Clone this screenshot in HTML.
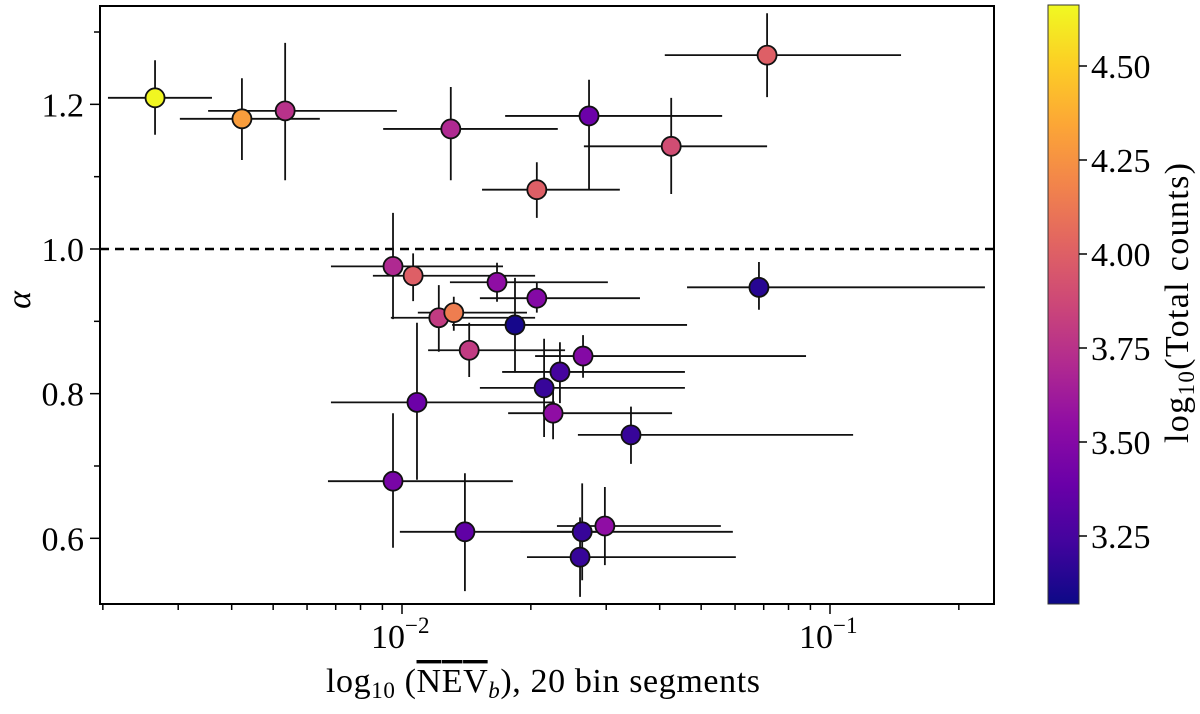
<!DOCTYPE html>
<html><head><meta charset="utf-8"><style>
body{margin:0;background:#fff;width:1200px;height:709px;overflow:hidden}
svg{font-family:"Liberation Serif","DejaVu Serif",serif}
</style></head><body>
<svg id="chart" width="1200" height="709" viewBox="0 0 1200 709">
<defs>
<linearGradient id="plasma" x1="0" y1="1" x2="0" y2="0">
<stop offset="0" stop-color="#0d0887"/><stop offset="0.1" stop-color="#41049d"/><stop offset="0.2" stop-color="#6a00a8"/><stop offset="0.3" stop-color="#8f0da4"/><stop offset="0.4" stop-color="#b12a90"/><stop offset="0.5" stop-color="#cc4778"/><stop offset="0.6" stop-color="#e16462"/><stop offset="0.7" stop-color="#f2844b"/><stop offset="0.8" stop-color="#fca636"/><stop offset="0.9" stop-color="#fcce25"/><stop offset="1" stop-color="#f0f921"/>
</linearGradient>
</defs>
<g id="plot"></g>
<g id="axes"></g>
<rect x="1048" y="5" width="31" height="599" fill="url(#plasma)" stroke="#333" stroke-width="1"/>
<g id="cbar"></g>
<text x="326" y="692" font-size="34" textLength="434" lengthAdjust="spacing">log<tspan font-size="23" dy="6">10</tspan><tspan dy="-6"> (</tspan><tspan text-decoration="overline">NEV</tspan><tspan font-style="italic" font-size="23" dy="6">b</tspan><tspan dy="-6">), 20 bin segments</tspan></text>
<text x="0" y="0" font-size="34" font-style="italic" text-anchor="middle" transform="translate(30,300) rotate(-90)">α</text>
<text x="163" y="0" font-size="34" textLength="280" lengthAdjust="spacing" transform="translate(1188,606) rotate(-90)">log<tspan font-size="23" dy="6">10</tspan><tspan dy="-6">(Total counts)</tspan></text>
</svg>
<script>
const logNEV   =[-2.577,-2.374,-2.273,-1.886,-1.563,-1.147,-1.371,-1.685,-2.021,-1.974,-1.778,-1.685,-1.166,-1.914,-1.879,-1.736,-1.843,-1.577,-1.631,-1.668,-1.965,-1.647,-1.465,-2.021,-1.853,-1.579,-1.526,-1.584];
const logNEVLo =[-2.687,-2.519,-2.453,-2.044,-1.759,-1.386,-1.575,-1.813,-2.166,-2.068,-1.888,-1.818,-1.334,-2.026,-1.963,-1.883,-1.939,-1.689,-1.766,-1.818,-2.166,-1.752,-1.589,-2.173,-2.005,-1.724,-1.638,-1.708];
const logNEVHi =[-2.444,-2.192,-2.012,-1.636,-1.252,-0.834,-1.147,-1.491,-1.764,-1.689,-1.519,-1.444,-0.638,-1.689,-1.708,-1.334,-1.619,-1.056,-1.339,-1.339,-1.643,-1.369,-0.946,-1.741,-1.530,-1.227,-1.255,-1.220];
const alpha    =[1.209,1.180,1.191,1.166,1.184,1.268,1.142,1.082,0.976,0.963,0.954,0.932,0.947,0.905,0.912,0.895,0.860,0.852,0.830,0.808,0.788,0.773,0.743,0.679,0.609,0.609,0.617,0.574];
const alphaHi  =[1.261,1.236,1.285,1.224,1.234,1.326,1.209,1.120,1.050,0.994,0.981,0.953,0.982,0.950,0.934,0.960,0.898,0.881,0.871,0.876,0.898,0.805,0.782,0.773,0.690,0.676,0.671,0.629];
const alphaLo  =[1.158,1.123,1.095,1.095,1.082,1.210,1.076,1.043,0.903,0.928,0.927,0.912,0.916,0.858,0.887,0.829,0.823,0.822,0.787,0.740,0.681,0.737,0.703,0.587,0.527,0.542,0.563,0.519];
const counts   =[4.65,4.30,3.75,3.70,3.40,4.00,3.90,4.00,3.70,4.00,3.55,3.50,3.15,3.80,4.15,3.10,3.80,3.50,3.25,3.20,3.40,3.55,3.20,3.45,3.35,3.20,3.55,3.20];
const yTicks   =[0.6,0.8,1.0,1.2];
const yTickLabels=["0.6","0.8","1.0","1.2"];
const cTicks   =[3.25,3.50,3.75,4.00,4.25,4.50];
const cTickLabels=["3.25","3.50","3.75","4.00","4.25","4.50"];

const L=100,R=994,T=6,B=604;
const X=v=>402+(v+2)*428;
const Y=a=>249-(a-1)*723.3;
const CB=c=>536-(c-3.25)*376;
const cmin=3.072,cmax=4.662;
const stops=["#0d0887","#41049d","#6a00a8","#8f0da4","#b12a90","#cc4778","#e16462","#f2844b","#fca636","#fcce25","#f0f921"];
function hex(h){return [1,3,5].map(i=>parseInt(h.substr(i,2),16));}
function cmap(c){let t=Math.max(0,Math.min(1,(c-cmin)/(cmax-cmin)))*10;let i=Math.min(9,Math.floor(t)),f=t-i;
 const a=hex(stops[i]),b=hex(stops[i+1]);return "rgb("+a.map((v,k)=>Math.round(v+(b[k]-v)*f)).join(",")+")";}
const NS="http://www.w3.org/2000/svg";
function mk(p,tag,at){const e=document.createElementNS(NS,tag);for(const k in at)e.setAttribute(k,at[k]);p.appendChild(e);return e;}
const plot=document.getElementById('plot'),axes=document.getElementById('axes'),cbar=document.getElementById('cbar');

let d=mk(plot,'line',{x1:L,x2:R,y1:Y(1),y2:Y(1),stroke:'#000','stroke-width':2.5,'stroke-dasharray':'9,6'});



for(let i=0;i<alpha.length;i++){
 const g=mk(plot,'g',{});
 
 
 const eb=mk(g,'path',{d:`M${X(logNEVLo[i])},${Y(alpha[i])}H${X(logNEVHi[i])}M${X(logNEV[i])},${Y(alphaHi[i])}V${Y(alphaLo[i])}`,stroke:'#111','stroke-width':1.8,fill:'none'});
 
 
}
for(let i=0;i<alpha.length;i++){
 const c=mk(plot,'circle',{cx:X(logNEV[i]),cy:Y(alpha[i]),r:9.5,fill:cmap(counts[i]),stroke:'#111','stroke-width':1.8});
 
 
}

const fr=mk(axes,'rect',{x:L,y:T,width:R-L,height:B-T,fill:'none',stroke:'#000','stroke-width':2});


for(let e=-3;e<=-1;e++){for(let m=1;m<10;m++){const v=Math.log10(m)+e;const x=X(v);if(x<L||x>R)continue;
 const t=mk(axes,'line',{x1:x,x2:x,y1:B,y2:B+(m===1?10:6),stroke:'#000','stroke-width':1.5});
 
 
 if(m===1){const tx=mk(axes,'text',{x:x-31,y:B+44,'font-size':34});
  
  
  tx.innerHTML='10<tspan font-size="23" dy="-15">'+(e===-2?'−2':'−1')+'</tspan>';}
}}
for(let k=5;k<=13;k++){const a=k/10;const y=Y(a);if(y<T||y>B)continue;
 const major=k%2===0;
 const t=mk(axes,'line',{x1:L-(major?10:6),x2:L,y1:y,y2:y,stroke:'#000','stroke-width':1.5});
 
 
}
yTicks.forEach((a,i)=>{const tx=mk(axes,'text',{x:L-16,y:Y(a)+12,'font-size':34,'text-anchor':'end'});
 
 
 tx.textContent=yTickLabels[i];});
cTicks.forEach((c,i)=>{const y=CB(c);
 const t=mk(cbar,'line',{x1:1079,x2:1087,y1:y,y2:y,stroke:'#000','stroke-width':1.5});
 
 
 const tx=mk(cbar,'text',{x:1091,y:y+12,'font-size':34});
 
 
 tx.textContent=cTickLabels[i];});
</script>
</body></html>
